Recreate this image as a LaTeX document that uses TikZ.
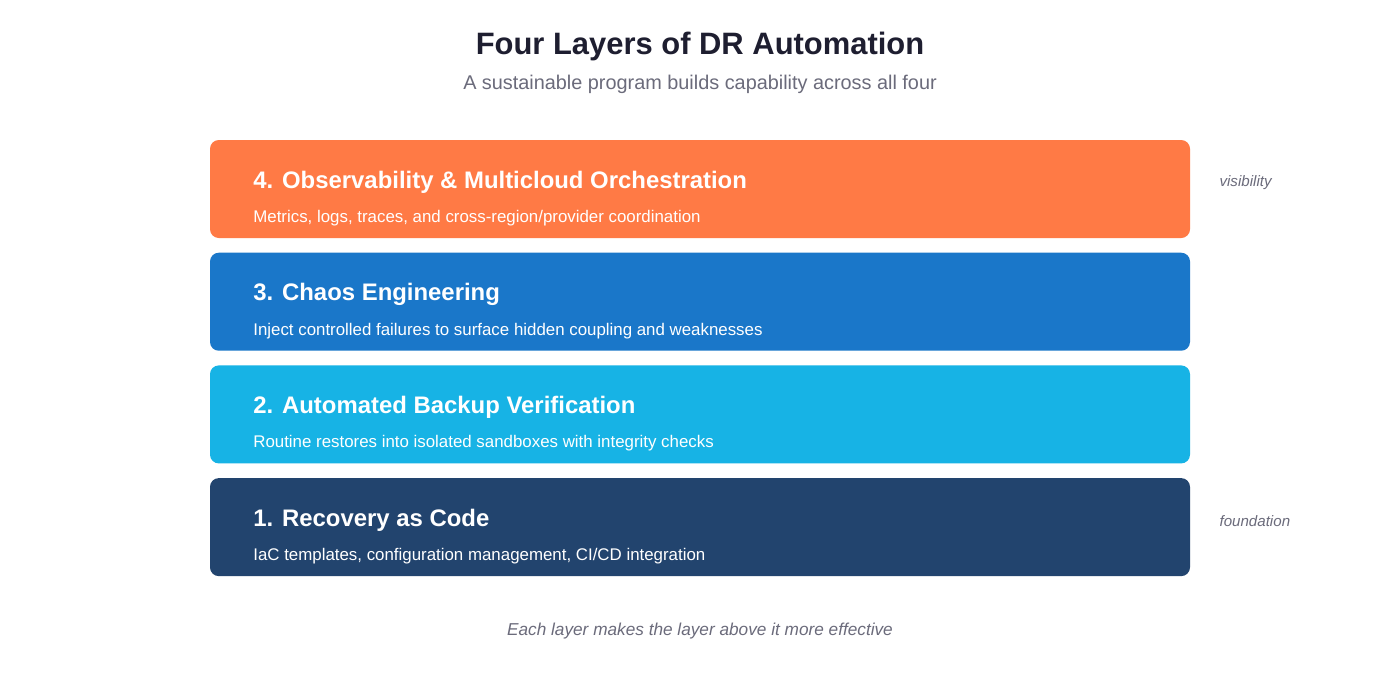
\documentclass[tikz,border=0pt]{standalone}
\usepackage{fontspec}
\setmainfont{Liberation Sans}
\usepackage{tikz}
\usetikzlibrary{positioning,calc}
\definecolor{layerfour}{HTML}{FF7A45}
\definecolor{layerthree}{HTML}{1A77C9}
\definecolor{layertwo}{HTML}{17B3E5}
\definecolor{layerone}{HTML}{22446E}
\definecolor{titleink}{HTML}{1E1E30}
\definecolor{greyink}{HTML}{6B6B7B}
\tikzset{
  layer/.style={rounded corners=5pt,minimum width=19.6cm,minimum height=1.96cm,inner sep=0pt},
  lhead/.style={anchor=west,text=white,font=\fontsize{13.6}{16}\selectfont\bfseries},
  lsub/.style={anchor=west,text=white,font=\fontsize{9.6}{12}\selectfont},
  side/.style={anchor=west,text=greyink,font=\fontsize{8.6}{10}\selectfont\itshape}
}
\begin{document}
\begin{tikzpicture}
		\useasboundingbox[fill=white] (0,0) rectangle (28,-13.44);
		\node(title) at (14,-0.92) [text=titleink,font=\fontsize{17.6}{20}\selectfont\bfseries] {Four Layers of DR Automation};
		\node(subtitle) at (14,-1.69) [text=greyink,font=\fontsize{11.3}{14}\selectfont] {A sustainable program builds capability across all four};
		% stacked layers, top to bottom
		\node(L4) at (14,-3.78) [layer,fill=layerfour] {};
		\node(L3) [below=0.28 of L4,layer,fill=layerthree] {};
		\node(L2) [below=0.28 of L3,layer,fill=layertwo] {};
		\node(L1) [below=0.28 of L2,layer,fill=layerone] {};
		\foreach \n/\head/\sub in {
			L4/{4. Observability \& Multicloud Orchestration}/{Metrics, logs, traces, and cross-region/provider coordination},
			L3/{3. Chaos Engineering}/{Inject controlled failures to surface hidden coupling and weaknesses},
			L2/{2. Automated Backup Verification}/{Routine restores into isolated sandboxes with integrity checks},
			L1/{1. Recovery as Code}/{IaC templates, configuration management, CI/CD integration}} {
			\node(\n h) at ($(\n.west)+(0.75,0.14)$) [lhead] {\head};
			\node(\n s) at ($(\n.west)+(0.75,-0.58)$) [lsub] {\sub};
		}
		\node(top) at ($(L4.east)+(0.46,0.12)$) [side] {visibility};
		\node(base) at ($(L1.east)+(0.46,0.12)$) [side] {foundation};
		\node(footer) at (14,-12.62) [text=greyink,font=\fontsize{9.8}{12}\selectfont\itshape] {Each layer makes the layer above it more effective};
	\end{tikzpicture}
\end{document}
